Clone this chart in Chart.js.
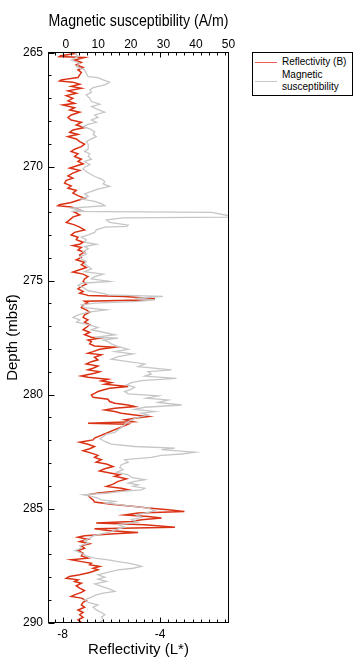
<!DOCTYPE html>
<html><head><meta charset="utf-8">
<script src="https://cdn.jsdelivr.net/npm/chart.js@4"></script>
<style>
html,body{margin:0;padding:0;background:#fff;}
#wrap{position:relative;width:355px;height:669px;}
#legend{position:absolute;left:252px;top:52px;width:99px;height:42px;border:1px solid #000;background:#fff;font-family:"Liberation Sans",Arial,Helvetica,sans-serif;font-size:10px;color:#000;}
.ln{position:absolute;left:2px;width:22px;height:0;border-top:1.5px solid;}
.tx{position:absolute;left:29px;line-height:12px;white-space:nowrap;}
</style></head>
<body><div id="wrap"><canvas id="c" width="355" height="669"></canvas>
<div id="legend">
<div class="ln" style="top:9px;border-color:#ee5a55"></div><div class="tx" style="top:3px">Reflectivity (B)</div>
<div class="ln" style="top:28px;border-color:#c8c8c8"></div><div class="tx" style="top:16px">Magnetic<br>susceptibility</div>
</div></div>
<script>
const depthTicks=[265,270,275,280,285,290];
const magTicks=[0,10,20,30,40,50];
const reflTicks=[-8,-4];
const depthR=[265.03,265.14,265.18,265.22,265.33,265.43,265.54,265.66,265.76,265.87,265.98,266.10,266.20,266.25,266.30,266.39,266.49,266.57,266.68,266.79,266.89,267.01,267.12,267.23,267.30,267.42,267.52,267.62,267.74,267.85,267.96,268.06,268.18,268.29,268.40,268.50,268.59,268.69,268.79,268.91,269.02,269.13,269.24,269.34,269.44,269.56,269.68,269.78,269.88,270.00,270.07,270.17,270.29,270.41,270.51,270.61,270.73,270.85,270.95,271.05,271.17,271.28,271.39,271.46,271.58,271.68,271.72,271.78,271.87,271.93,272.01,272.12,272.22,272.34,272.45,272.56,272.66,272.78,272.89,273.00,273.10,273.21,273.32,273.41,273.47,273.55,273.66,273.76,273.88,273.99,274.09,274.20,274.31,274.43,274.53,274.63,274.72,274.83,274.93,275.04,275.16,275.26,275.37,275.48,275.56,275.63,275.66,275.70,275.76,275.80,275.85,275.91,275.99,276.07,276.19,276.29,276.39,276.51,276.62,276.73,276.83,276.94,277.06,277.16,277.27,277.38,277.49,277.53,277.61,277.68,277.78,277.87,277.93,278.02,278.12,278.19,278.26,278.37,278.48,278.56,278.66,278.75,278.85,278.92,279.00,279.07,279.19,279.24,279.33,279.40,279.48,279.55,279.65,279.73,279.80,279.87,279.95,280.02,280.12,280.21,280.31,280.38,280.46,280.53,280.60,280.68,280.75,280.82,280.90,280.97,281.04,281.11,281.19,281.26,281.30,281.91,281.99,282.09,282.18,282.28,282.38,282.47,282.57,282.67,282.76,282.86,282.97,283.05,283.16,283.26,283.35,283.45,283.52,283.59,283.70,283.81,283.93,284.03,284.11,284.18,284.25,284.32,284.40,284.51,284.62,284.72,284.81,284.91,284.98,285.06,285.13,285.20,285.28,285.35,285.42,285.49,285.57,285.64,285.71,285.82,285.89,285.97,286.05,286.11,286.20,286.26,286.35,286.45,286.55,286.64,286.74,286.84,286.96,287.08,287.18,287.25,287.33,287.40,287.47,287.54,287.62,287.69,287.81,287.91,287.98,288.06,288.13,288.20,288.28,288.39,288.49,288.60,288.68,288.79,288.86,288.93,289.04,289.12,289.23,289.33,289.45,289.56,289.66,289.77,289.88,289.99];
const reflR=[-7.44,-8.06,-8.13,-7.10,-7.51,-7.23,-7.44,-7.16,-7.37,-7.23,-7.30,-7.37,-8.06,-8.13,-7.58,-7.30,-7.65,-7.23,-7.78,-7.44,-7.85,-7.58,-7.78,-7.51,-7.99,-7.51,-7.71,-7.30,-7.65,-7.78,-7.65,-7.23,-7.44,-7.10,-7.58,-7.71,-7.37,-7.78,-7.44,-7.30,-7.10,-7.23,-7.51,-7.65,-7.37,-7.51,-7.23,-7.37,-7.16,-7.51,-7.71,-7.30,-7.58,-7.78,-7.58,-7.85,-7.92,-7.65,-7.78,-7.44,-7.58,-7.37,-7.10,-7.30,-7.65,-8.13,-8.19,-7.65,-7.37,-7.23,-7.51,-7.30,-7.58,-7.71,-7.85,-7.51,-7.30,-7.10,-7.51,-7.65,-7.37,-7.44,-7.16,-7.30,-7.58,-7.23,-7.37,-7.10,-7.30,-7.23,-7.44,-7.10,-7.23,-7.03,-7.30,-7.58,-7.16,-6.96,-7.10,-7.16,-7.03,-7.23,-7.37,-7.16,-7.30,-7.03,-6.96,-5.45,-4.76,-4.21,-4.63,-7.10,-6.96,-7.16,-7.23,-7.03,-6.89,-7.10,-7.16,-6.96,-7.10,-6.89,-7.03,-7.16,-6.89,-7.10,-6.82,-6.48,-6.96,-6.82,-6.89,-6.69,-5.86,-6.48,-6.75,-6.96,-6.41,-6.69,-6.55,-6.82,-7.03,-6.55,-6.75,-6.96,-6.48,-6.69,-7.23,-6.96,-6.14,-6.41,-6.00,-6.27,-5.31,-6.07,-6.34,-6.55,-6.69,-6.82,-6.75,-6.14,-6.07,-5.86,-5.31,-5.04,-5.86,-6.27,-5.86,-5.59,-5.04,-4.49,-5.04,-5.45,-5.11,-6.96,-5.31,-6.69,-6.75,-7.30,-6.96,-6.69,-6.89,-7.16,-6.82,-6.55,-6.69,-6.41,-6.62,-6.20,-5.93,-6.27,-6.48,-6.00,-5.66,-5.86,-5.38,-5.72,-5.93,-6.20,-5.59,-5.31,-5.93,-6.55,-6.96,-6.89,-6.75,-6.69,-6.00,-5.04,-4.49,-3.67,-3.00,-4.90,-5.45,-4.49,-3.94,-4.76,-5.17,-6.62,-4.63,-3.39,-6.69,-6.14,-4.90,-5.86,-7.10,-7.37,-6.96,-7.30,-6.89,-7.23,-7.10,-7.37,-7.16,-7.23,-6.96,-7.65,-7.23,-6.82,-6.89,-6.48,-6.75,-6.55,-6.89,-7.30,-7.72,-7.85,-7.37,-7.51,-7.23,-7.44,-7.30,-7.10,-7.23,-7.51,-7.65,-7.23,-7.03,-7.16,-7.23,-7.10,-7.37,-7.16,-7.30,-7.16,-7.37,-7.23];
const depthM=[265.03,265.18,265.33,265.47,265.62,265.76,265.91,266.06,266.10,266.20,266.30,266.42,266.54,266.64,266.74,266.86,267.01,267.15,267.27,267.37,267.47,267.62,267.74,267.85,267.96,268.06,268.15,268.25,268.35,268.47,268.59,268.69,268.79,268.91,269.02,269.13,269.24,269.34,269.44,269.56,269.68,269.78,269.92,270.03,270.11,270.22,270.32,270.44,270.55,270.66,270.76,270.87,270.99,271.09,271.20,271.31,271.43,271.53,271.63,271.72,271.82,271.93,271.97,272.01,272.16,272.22,272.25,272.34,272.45,272.57,272.63,272.66,272.78,272.89,273.00,273.10,273.21,273.32,273.41,273.51,273.61,273.73,273.85,273.95,274.05,274.17,274.28,274.39,274.49,274.61,274.72,274.83,274.93,275.04,275.12,275.22,275.34,275.45,275.56,275.63,275.70,275.78,275.85,275.92,275.99,276.07,276.19,276.29,276.39,276.51,276.62,276.73,276.83,276.94,277.06,277.16,277.27,277.38,277.49,277.53,277.61,277.68,277.78,277.90,278.02,278.12,278.22,278.34,278.45,278.56,278.66,278.78,278.92,279.00,279.10,279.19,279.29,279.39,279.48,279.58,279.68,279.80,279.87,279.97,280.06,280.16,280.24,280.35,280.46,280.56,280.65,280.75,280.82,280.90,281.00,281.11,281.23,281.33,281.44,281.55,281.66,281.74,281.84,281.94,282.06,282.18,282.28,282.35,282.42,282.53,282.61,282.67,282.76,282.86,282.97,283.08,283.20,283.30,283.40,283.52,283.64,283.74,283.81,283.89,283.96,284.03,284.11,284.18,284.25,284.32,284.40,284.47,284.54,284.62,284.69,284.76,284.87,284.98,285.10,285.20,285.28,285.39,285.49,285.60,285.71,285.82,285.94,286.01,286.11,286.20,286.30,286.40,286.52,286.64,286.74,286.84,286.96,287.08,287.18,287.25,287.33,287.40,287.47,287.54,287.62,287.69,287.81,287.91,288.01,288.10,288.20,288.31,288.42,288.54,288.64,288.71,288.79,288.89,289.01,289.12,289.23,289.33,289.45,289.56,289.66,289.77,289.88,289.99];
const magM=[2.8,3.8,1.7,4.3,3.3,5.8,6.3,6.9,9.9,11.5,13.5,12.0,8.4,7.4,7.9,6.3,7.4,7.9,10.5,7.9,9.4,12.0,8.9,9.9,7.9,9.4,6.9,5.3,7.4,8.9,8.4,9.4,7.9,6.3,6.9,6.9,6.9,5.8,7.4,6.9,7.9,5.8,7.4,5.8,5.3,6.3,7.4,8.9,11.0,12.0,11.5,13.5,9.9,7.9,5.8,6.9,4.8,8.9,11.0,12.0,1.7,4.8,1.7,44.8,50.2,49.9,17.6,12.5,13.5,19.2,18.7,12.0,9.4,8.9,6.9,4.8,6.3,5.8,9.4,5.8,6.9,5.3,6.3,4.3,4.8,6.3,5.8,6.9,7.9,5.8,11.5,8.9,7.9,13.5,4.8,3.8,5.8,6.9,11.5,13.0,29.9,21.2,27.4,22.2,8.9,4.8,5.8,12.5,6.9,3.8,2.2,4.3,3.3,6.9,9.9,7.9,11.5,15.1,8.9,16.1,11.5,13.0,14.0,16.1,19.2,15.1,20.7,16.1,14.0,19.2,24.3,22.2,32.5,25.3,26.3,24.3,34.0,23.3,20.2,18.7,21.2,19.7,18.1,19.2,28.4,24.8,31.5,28.4,35.6,24.3,21.2,27.4,23.3,25.3,22.2,20.2,18.7,18.1,17.1,16.1,15.1,12.5,11.5,10.5,12.0,14.0,21.2,33.5,29.4,39.7,35.6,29.4,26.3,18.1,19.2,17.1,16.6,17.6,15.6,19.2,20.2,24.3,21.2,19.2,22.2,20.7,24.3,23.3,17.1,13.0,5.3,7.9,9.9,10.9,15.1,12.5,18.7,25.3,27.4,24.3,21.7,23.3,20.2,22.2,16.1,18.1,15.1,14.0,11.0,8.4,7.4,5.8,6.9,4.3,4.8,2.8,4.8,6.3,8.9,13.0,16.1,19.2,21.7,23.3,20.7,16.1,12.5,9.9,12.0,9.9,12.5,8.9,11.0,13.5,15.1,11.5,9.4,7.9,5.8,6.9,9.9,8.4,9.4,11.0,12.0,11.0,11.5,10.5];

const FONT='"Liberation Sans", Arial, Helvetica, sans-serif';
const ptsR=depthR.map((d,i)=>({x:reflR[i],y:d}));
const ptsM=depthM.map((d,i)=>({x:magM[i],y:d}));

const framePlugin={id:'frame',afterDatasetsDraw(chart){
  const ctx=chart.ctx,a=chart.chartArea,s=chart.scales;
  ctx.save();ctx.strokeStyle='#000';ctx.lineWidth=1;
  ctx.strokeRect(a.left,a.top,a.right-a.left,a.bottom-a.top);
  ctx.beginPath();
  for(let d=265;d<=290;d++){const y=Math.round(s.y.getPixelForValue(d))+0.5;const L=(d%5===0)?6:3;ctx.moveTo(a.left,y);ctx.lineTo(a.left+L,y);}
  for(let k=-1;k<=20;k++){const v=-8+k/3;const x=Math.round(s.xR.getPixelForValue(v))+0.5;if(x<=a.left+1||x>=a.right-1)continue;const L=(k%12===0)?5:3;
    ctx.moveTo(x,a.top);ctx.lineTo(x,a.top+L);ctx.moveTo(x,a.bottom);ctx.lineTo(x,a.bottom-L);}
  ctx.stroke();ctx.restore();}};

new Chart(document.getElementById('c'),{
  type:'scatter',
  data:{datasets:[
    {label:'Magnetic susceptibility',data:ptsM,xAxisID:'xM',yAxisID:'y',showLine:true,borderColor:'#c6c6c6',borderWidth:1.3,pointRadius:0,tension:0},
    {label:'Reflectivity (B)',data:ptsR,xAxisID:'xR',yAxisID:'y',showLine:true,borderColor:'#da3214',borderWidth:1.5,pointRadius:0,tension:0}
  ]},
  options:{responsive:false,animation:false,
    layout:{padding:{left:0,top:0,right:126.5,bottom:0}},
    plugins:{legend:{display:false},tooltip:{enabled:false}},
    scales:{
      y:{type:'linear',position:'left',reverse:true,min:265,max:290,
        afterFit(s){s.width=48.5;},
        afterBuildTicks(s){s.ticks=depthTicks.map(v=>({value:v}));},
        grid:{display:false,drawTicks:false},border:{display:false},
        ticks:{padding:5.5,color:'#000',font:{family:FONT,size:12}},
        title:{display:true,text:'Depth (mbsf)',color:'#000',font:{family:FONT,size:15},padding:4}},
      xM:{type:'linear',position:'top',min:-5.29,max:50,
        afterFit(s){s.height=52.5;},
        afterBuildTicks(s){s.ticks=magTicks.map(v=>({value:v}));},
        grid:{display:false,drawTicks:false},border:{display:false},
        ticks:{padding:1,color:'#000',maxRotation:0,font:{family:FONT,size:12}},
        title:{display:true,text:'Magnetic susceptibility (A/m)',color:'#000',font:{family:FONT,size:16},padding:{top:12,bottom:0}}},
      xR:{type:'linear',position:'bottom',min:-8.58,max:-1.19,
        afterFit(s){s.height=46.5;},
        afterBuildTicks(s){s.ticks=reflTicks.map(v=>({value:v}));},
        grid:{display:false,drawTicks:false},border:{display:false},
        ticks:{padding:5,color:'#000',maxRotation:0,font:{family:FONT,size:12}},
        title:{display:true,text:'Reflectivity (L*)',color:'#000',font:{family:FONT,size:15},padding:{top:0,bottom:10}}}
    }
  },
  plugins:[framePlugin]
});
</script></body></html>
